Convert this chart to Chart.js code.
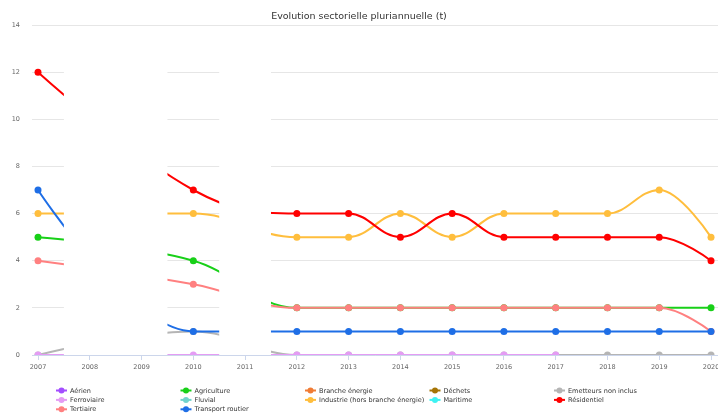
<!DOCTYPE html>
<html>
<head>
<meta charset="utf-8">
<title>Evolution sectorielle pluriannuelle</title>
<script src="https://cdn.jsdelivr.net/npm/chart.js@4.4.1/dist/chart.umd.min.js"></script>
<style>
  html, body { margin: 0; padding: 0; background: #fff; }
  canvas { display: block; }
</style>
</head>
<body>
<canvas id="chart" width="718" height="414"></canvas>
<script>
const years = [2007, 2008, 2009, 2010, 2011, 2012, 2013, 2014, 2015, 2016, 2017, 2018, 2019, 2020];
const yTicks = [0, 2, 4, 6, 8, 10, 12, 14];

const sectors = ['Aérien', 'Agriculture', 'Branche énergie', 'Déchets', 'Emetteurs non inclus',
                 'Ferroviaire', 'Fluvial', 'Industrie (hors branche énergie)', 'Maritime', 'Résidentiel',
                 'Tertiaire', 'Transport routier'];
const colors = ['#a34dff', '#18d018', '#f07c35', '#a57405', '#b5b5b5',
                '#e49cf4', '#72d3cd', '#ffbe3d', '#3ff2f2', '#ff0000',
                '#ff8080', '#1e6ee6'];

// tonnes per year (null = no figure for that year)
const aerien         = [null, null, null, null, null, null, null, null, null, null, null, null, null, null];
const agriculture    = [5, null, null, 4, null, 2, 2, 2, 2, 2, 2, 2, 2, 2];
const brancheEnergie = [null, null, null, null, null, null, null, null, null, null, null, null, null, null];
const dechets        = [null, null, null, null, null, null, null, null, null, null, null, null, null, null];
const nonInclus      = [0, null, null, 1, null, 0, 0, 0, 0, 0, 0, 0, 0, 0];
const ferroviaire    = [0, null, null, 0, null, 0, 0, 0, 0, 0, 0, null, null, null];
const fluvial        = [null, null, null, null, null, null, null, null, null, null, null, null, null, null];
const industrie      = [6, null, null, 6, null, 5, 5, 6, 5, 6, 6, 6, 7, 5];
const maritime       = [null, null, null, null, null, null, null, null, null, null, null, null, null, null];
const residentiel    = [12, null, null, 7, null, 6, 6, 5, 6, 5, 5, 5, 5, 4];
const tertiaire      = [4, null, null, 3, null, 2, 2, 2, 2, 2, 2, 2, 2, 1];
const transport      = [7, null, null, 1, null, 1, 1, 1, 1, 1, 1, 1, 1, 1];

const seriesValues = [aerien, agriculture, brancheEnergie, dechets, nonInclus, ferroviaire,
                      fluvial, industrie, maritime, residentiel, tertiaire, transport];

// years without any figure get blanked out, half a step on each side
const emptyYears = years.filter((y, i) => seriesValues.every(s => s[i] === null));
const gapRanges = [];
emptyYears.forEach(y => {
    const last = gapRanges[gapRanges.length - 1];
    if (last && last[1] === y - 0.5) {
        last[1] = y + 0.5;
    } else {
        gapRanges.push([y - 0.5, y + 0.5]);
    }
});

const FONT = 'DejaVu Sans';
Chart.defaults.font.family = FONT;

// spline control points: smoothing 1.5, flattened at local extremes
const splineControls = {
    id: 'splineControls',
    beforeDatasetsDraw(chart) {
        chart.getSortedVisibleDatasetMetas().forEach(meta => {
            const line = meta.dataset;
            if (!line) return;
            line.updateControlPoints(chart.chartArea, 'x');
            const pts = meta.data.filter(p => !p.skip);
            const s = 1.5, d = s + 1;
            pts.forEach(p => { p.cp1x = p.x; p.cp1y = p.y; p.cp2x = p.x; p.cp2y = p.y; });
            for (let i = 1; i < pts.length - 1; i++) {
                const p = pts[i], a = pts[i - 1], b = pts[i + 1];
                let lx = (s * p.x + a.x) / d, ly = (s * p.y + a.y) / d;
                let rx = (s * p.x + b.x) / d, ry = (s * p.y + b.y) / d;
                if (rx !== lx) {
                    const c = (ry - ly) * (rx - p.x) / (rx - lx) + p.y - ry;
                    ly += c;
                    ry += c;
                }
                if (ly > a.y && ly > p.y) { ly = Math.max(a.y, p.y); ry = 2 * p.y - ly; }
                else if (ly < a.y && ly < p.y) { ly = Math.min(a.y, p.y); ry = 2 * p.y - ly; }
                if (ry > b.y && ry > p.y) { ry = Math.max(b.y, p.y); ly = 2 * p.y - ry; }
                else if (ry < b.y && ry < p.y) { ry = Math.min(b.y, p.y); ly = 2 * p.y - ry; }
                p.cp1x = lx; p.cp1y = ly; p.cp2x = rx; p.cp2y = ry;
            }
        });
    }
};

const gapMask = {
    id: 'gapMask',
    afterDatasetsDraw(chart) {
        const { ctx, chartArea: area, scales: { x } } = chart;
        ctx.save();
        ctx.fillStyle = '#ffffff';
        gapRanges.forEach(([from, to]) => {
            const x0 = x.getPixelForValue(from);
            const x1 = x.getPixelForValue(to);
            ctx.fillRect(x0, area.top + 1, x1 - x0, area.bottom - area.top);
        });
        ctx.restore();
    }
};

// five fixed-width columns under the plot
const columnLegend = {
    id: 'columnLegend',
    afterDraw(chart, args, opts) {
        const ctx = chart.ctx;
        ctx.save();
        ctx.font = opts.fontSize + 'px "' + FONT + '"';
        ctx.textBaseline = 'middle';
        ctx.textAlign = 'left';
        chart.data.datasets.forEach((ds, i) => {
            const col = i % opts.columns;
            const row = Math.floor(i / opts.columns);
            const x = opts.left + col * opts.colWidth;
            const y = opts.top + row * opts.rowHeight;
            ctx.strokeStyle = ds.borderColor;
            ctx.lineWidth = 2;
            ctx.beginPath();
            ctx.moveTo(x, y);
            ctx.lineTo(x + 11, y);
            ctx.stroke();
            ctx.fillStyle = ds.borderColor;
            ctx.beginPath();
            ctx.arc(x + 5.5, y, 3, 0, Math.PI * 2);
            ctx.fill();
            ctx.fillStyle = '#333333';
            ctx.fillText(ds.label, x + 14, y + 0.5);
        });
        ctx.restore();
    }
};

const noPadding = axis => {
    axis.paddingLeft = 0;
    axis.paddingRight = 0;
    axis.paddingTop = 0;
    axis.paddingBottom = 0;
};

const datasets = sectors.map((name, i) => ({
    label: name,
    data: seriesValues[i].map((v, j) => ({ x: years[j], y: v })),
    borderColor: colors[i],
    backgroundColor: colors[i],
    pointBackgroundColor: colors[i],
    borderWidth: 2,
    pointRadius: 3.5,
    pointHoverRadius: 3.5,
    pointBorderWidth: 0,
    spanGaps: true,
    cubicInterpolationMode: 'monotone',
    fill: false,
    order: -i
}));

new Chart(document.getElementById('chart'), {
    type: 'line',
    data: { datasets },
    plugins: [splineControls, gapMask, columnLegend],
    options: {
        responsive: false,
        animation: false,
        events: [],
        devicePixelRatio: 1,
        layout: { autoPadding: false, padding: { top: 0, left: 0, right: 0, bottom: 45 } },
        plugins: {
            legend: { display: false },
            tooltip: { enabled: false },
            title: {
                display: true,
                text: 'Evolution sectorielle pluriannuelle (t)',
                color: '#333333',
                font: { family: FONT, size: 9.5, weight: 'normal', lineHeight: 1.2 },
                padding: { top: 11, bottom: 2.6 }
            },
            columnLegend: { columns: 5, left: 56, colWidth: 124.5, top: 390.5, rowHeight: 9.4, fontSize: 6.5 }
        },
        scales: {
            x: {
                type: 'linear',
                min: 2006.884,
                max: 2020.135,
                afterBuildTicks: axis => { axis.ticks = years.map(v => ({ value: v })); },
                afterFit: axis => { axis.height = 14; noPadding(axis); },
                ticks: {
                    autoSkip: false,
                    maxRotation: 0,
                    padding: 3,
                    color: '#666666',
                    font: { size: 6.5 },
                    callback: v => String(v)
                },
                grid: { drawOnChartArea: false, drawTicks: true, tickLength: 5, color: '#ccd6eb' },
                border: { display: true, color: '#ccd6eb', width: 1, z: 1 }
            },
            y: {
                min: 0,
                max: 14,
                afterBuildTicks: axis => { axis.ticks = yTicks.map(v => ({ value: v })); },
                afterFit: axis => { axis.width = 32; noPadding(axis); },
                ticks: { padding: 12, color: '#666666', font: { size: 6.5 } },
                grid: { color: '#e6e6e6', drawTicks: false },
                border: { display: false }
            }
        }
    }
});
</script>
</body>
</html>
